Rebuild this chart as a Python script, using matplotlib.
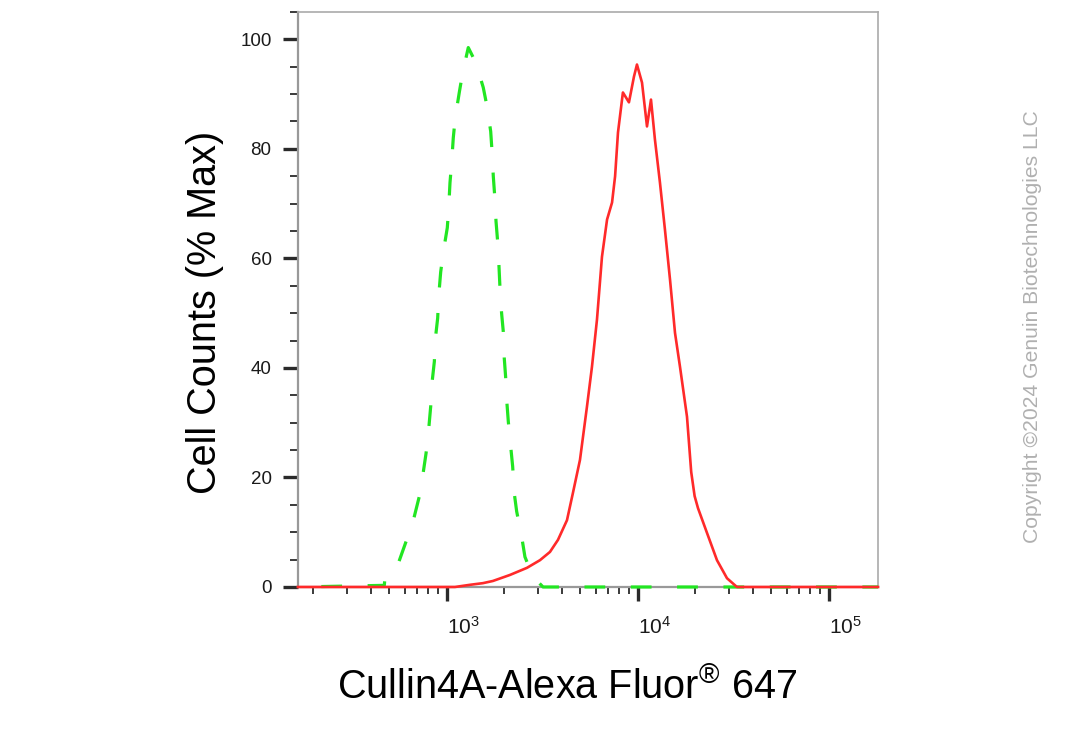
import numpy as np
import matplotlib
matplotlib.use('Agg')
import matplotlib.pyplot as plt
from matplotlib.ticker import LogLocator, NullFormatter, MultipleLocator

plt.rcParams['font.family'] = ['Liberation Sans', 'DejaVu Sans']
plt.rcParams['mathtext.fontset'] = 'custom'
plt.rcParams['mathtext.rm'] = 'Liberation Sans'

# isotype control (green, dashed)
green_x = [166, 470, 473, 556, 615, 667, 716, 746, 777, 799, 822, 831, 859, 866, 894, 905,
           927, 956, 1004, 1021, 1037, 1058, 1079, 1105, 1160, 1208, 1293, 1418, 1549,
           1626, 1694, 1721, 1748, 1778, 1806, 1842, 1872, 1893, 1932, 1971, 1995, 2028,
           2054, 2095, 2157, 2208, 2251, 2317, 2461, 2560, 2818, 3184, 180700]
green_y = [0, 0.3, 1.6, 4.3, 8.6, 12.2, 16.5, 20.2, 24.4, 28.1, 33.0, 36.6, 41.2, 44.8, 49.1,
           53.1, 57.5, 61.1, 65.6, 69.2, 73.8, 77.5, 82.0, 85.7, 90.3, 93.9, 98.5, 95.7, 91.2,
           87.5, 83.2, 79.6, 75.0, 71.4, 66.8, 63.1, 58.6, 54.9, 50.0, 46.7, 41.8, 38.4,
           34.2, 30.2, 25.6, 22.0, 17.1, 13.8, 9.2, 5.5, 1.9, 0, 0]

# Cullin4A stained (red)
red_x = [166, 1101, 1320, 1542, 1740, 2137, 2624, 3070, 3461, 3812, 4250, 4567, 4970, 5406,
         5743, 6100, 6480, 6890, 7316, 7590, 7860, 8340, 8970, 9530, 9880, 10500, 11150,
         11700, 12270, 13030, 13840, 14720, 15630, 16600, 18060, 19000, 19800, 20620,
         22970, 25920, 29250, 32980, 180700]
red_y = [0, 0, 0.4, 0.7, 1.1, 2.2, 3.5, 4.9, 6.4, 8.6, 12.2, 17.2, 23.2, 32.9, 40.2, 48.8,
         60.3, 67.1, 70.2, 75.0, 83.0, 90.3, 88.5, 93.2, 95.4, 92.1, 84.1, 89.0, 81.7, 73.9,
         65.3, 56.1, 46.4, 40.2, 31.1, 21.0, 16.6, 14.4, 9.9, 4.9, 1.6, 0, 0]

x_major = [1e3, 1e4, 1e5]
x_major_lab = [r'$\mathregular{10^{3}}$', r'$\mathregular{10^{4}}$', r'$\mathregular{10^{5}}$']
y_major = [0, 20, 40, 60, 80, 100]

fig = plt.figure(figsize=(10.67, 7.30), dpi=100)
ax = fig.add_axes([0.2793, 0.1959, 0.5436, 0.7877])

ax.set_xscale('log')
ax.set_xlim(166, 180700)
ax.set_ylim(0, 105)

# put a dash right on the green peak, like the reference
lw_g = 2.3
dash_on, dash_off = 6.5, 8.0
pix = ax.transData.transform(np.column_stack([green_x, green_y]))
seg = np.hypot(np.diff(pix[:, 0]), np.diff(pix[:, 1]))
ipk = int(np.argmax(green_y))
L_pt = seg[:ipk].sum() * 72.0 / fig.dpi
period = (dash_on + dash_off) * lw_g
off = ((dash_on * lw_g) / 2 - L_pt) % period

ax.plot(green_x, green_y, color='#22e622', lw=lw_g,
        linestyle=(off / lw_g, (dash_on, dash_off)), clip_on=False, zorder=3)
ax.plot(red_x, red_y, color='#ff2a2a', lw=1.9, clip_on=False, zorder=4)

ax.set_xticks(x_major)
ax.set_xticklabels(x_major_lab)
ax.xaxis.set_minor_locator(LogLocator(base=10, subs=np.arange(2, 10)))
ax.xaxis.set_minor_formatter(NullFormatter())
ax.set_yticks(y_major)
ax.yaxis.set_minor_locator(MultipleLocator(5))

ax.tick_params(axis='both', which='major', direction='out', color='#2a2a2a',
               labelcolor='#1a1a1a', labelsize=13.5)
ax.tick_params(axis='y', which='major', length=11, width=2.4, pad=8)
ax.tick_params(axis='y', which='minor', length=6, width=1.4, color='#3a3a3a')
ax.tick_params(axis='x', which='major', length=10, width=2.4, pad=11, labelsize=15)
ax.tick_params(axis='x', which='minor', length=5, width=1.4, color='#3a3a3a')
for lab in ax.get_xticklabels():
    lab.set_ha('left')

for s in ['left', 'bottom']:
    ax.spines[s].set_color('#999999')
    ax.spines[s].set_linewidth(1.6)
for s in ['top', 'right']:
    ax.spines[s].set_color('#aaaaaa')
    ax.spines[s].set_linewidth(1.2)

ax.set_ylabel('Cell Counts (% Max)', fontsize=28.5, va='center')
ax.yaxis.set_label_coords(-0.160, 0.478)
ax.set_xlabel('Cullin4A-Alexa Fluor$^{\u00ae}$ 647', fontsize=28.5, va='center')
ax.xaxis.set_label_coords(0.464, -0.174)

fig.text(1032 / 1067, 1 - 327 / 730, 'Copyright \u00a92024 Genuin Biotechnologies LLC',
         rotation=90, ha='center', va='center', color='#b0b0b0', fontsize=15.2)

fig.savefig('out.png', dpi=100)
